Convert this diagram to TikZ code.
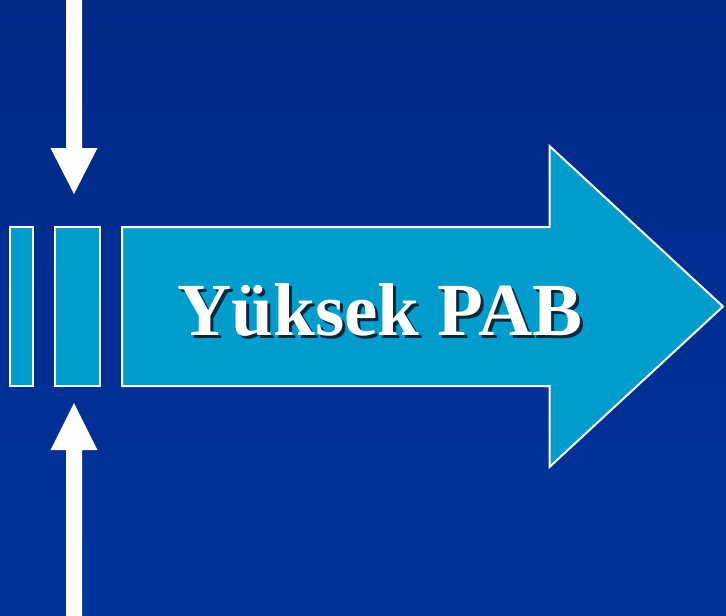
\documentclass[tikz,border=0pt]{standalone}
\usepackage{fontspec}
\setmainfont{Liberation Serif}
\definecolor{bgtop}{RGB}{0,40,135}
\definecolor{bgbot}{RGB}{0,52,155}
\definecolor{cyanfill}{RGB}{0,156,204}
\definecolor{shadowcol}{RGB}{10,40,60}
\newcommand{\shadowtext}[1]{\rlap{\hspace{3pt}\raisebox{-3pt}{\textcolor{shadowcol}{#1}}}\textcolor{white}{#1}}
\tikzset{
  boxshape/.style={fill=cyanfill, draw=white, line width=2pt},
  whitearrow/.style={fill=white, draw=none},
  labeltext/.style={font=\bfseries\fontsize{75}{80}\selectfont, inner sep=0pt}
}
\begin{document}
\begin{tikzpicture}[x=1pt,y=-1pt]
\useasboundingbox (0,0) rectangle (726,616);
\shade[top color=bgtop, bottom color=bgbot] (0,0) rectangle (726,616);
% top arrow
\fill[whitearrow] (66,0) -- (82,0) -- (82,148) -- (97.5,148) -- (74,194) -- (50.5,148) -- (66,148) -- cycle;
% bottom arrow
\fill[whitearrow] (66,616) -- (82,616) -- (82,450) -- (97.5,450) -- (74,403) -- (50.5,450) -- (66,450) -- cycle;
% small rectangles
\draw[boxshape] (9.5,227) rectangle (32.5,386);
\draw[boxshape] (54.5,227) rectangle (100,386);
% big arrow
\draw[boxshape] (122,227) -- (549.5,227) -- (549.5,146) -- (723,306.5) -- (549.5,467) -- (549.5,386) -- (122,386) -- cycle;
% label
\node[labeltext, anchor=base] (label) at (380,335) {\shadowtext{Yüksek PAB}};
\end{tikzpicture}
\end{document}
